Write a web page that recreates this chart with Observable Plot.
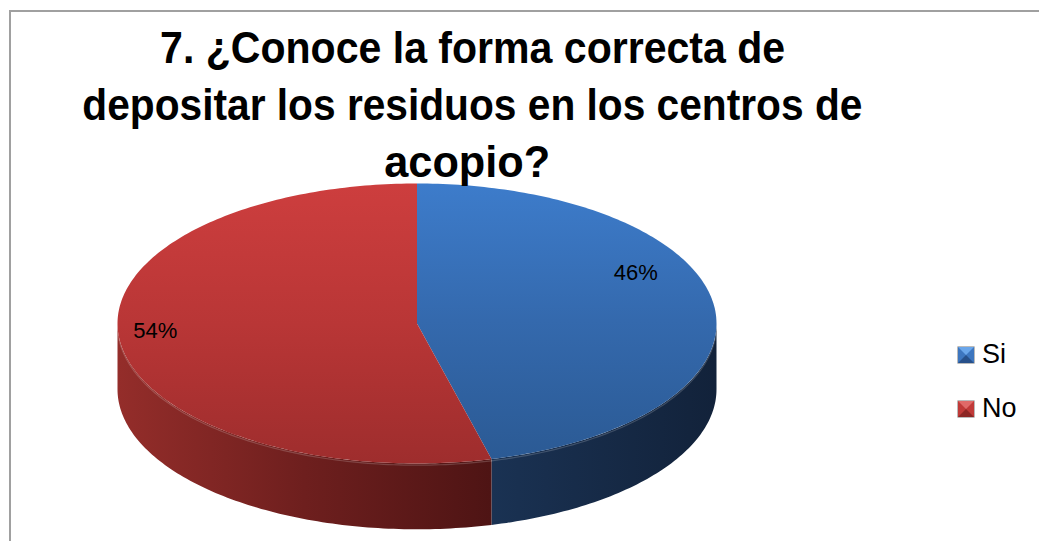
<!DOCTYPE html>
<html><head><meta charset="utf-8">
<script src="https://cdn.jsdelivr.net/npm/d3@7"></script>
<script src="https://cdn.jsdelivr.net/npm/@observablehq/plot@0.6"></script>
<style>
body{margin:0;background:#fff;}
#wrap{position:relative;width:1039px;height:541px;overflow:hidden;background:#fff;font-family:"Liberation Sans",Arial,sans-serif;}
#frame{position:absolute;left:9px;top:10px;right:-10px;bottom:-10px;border-left:2px solid #a0a0a0;border-top:2px solid #a0a0a0;}
#chart{position:absolute;left:0;top:0;}
.tl{position:absolute;white-space:nowrap;font-family:"Liberation Sans Narrow","Liberation Sans",Arial,sans-serif;font-weight:bold;font-size:45px;line-height:45px;color:#000;transform-origin:center center;}
.lg{position:absolute;font-size:27px;line-height:27px;color:#000;}
.sw{position:absolute;width:0;height:0;border-style:solid;border-width:8px 8.5px;box-shadow:0 0 0 0.6px rgba(0,0,0,0.45);}
</style></head><body>
<div id="wrap">
  <div id="frame"></div>
  <div id="chart"></div>
</div>
<script>
const titleLines = ["7. ¿Conoce la forma correcta de", "depositar los residuos en los centros de", "acopio?"];
const categories = ["Si", "No"];
const values = [46, 54];
const percentLabels = ["46%", "54%"];

const topFill = ["url(#blueTop)", "url(#redTop)"];
const wallFill = ["url(#blueWall)", "url(#redWall)"];
const swatchColors = [["#6aa6ea","#3d76bf","#27508a"],["#e06a68","#c03a38","#8c2624"]];

const total = d3.sum(values);
let acc = 0;
const slices = categories.map((c, i) => {
  const a0 = acc / total * 360; acc += values[i];
  const a1 = acc / total * 360;
  return {c, i, a0, a1, mid: (a0 + a1) / 2};
});

const DEPTH = 0.47;
const rad = a => a * Math.PI / 180;
function arc(a0, a1, yOff = 0, xOff = 0) {
  const n = Math.max(2, Math.ceil(Math.abs(a1 - a0)));
  return d3.range(n + 1).map(k => {
    const a = rad(a0 + (a1 - a0) * k / n);
    return {x: Math.sin(a) + xOff, y: Math.cos(a) - yOff};
  });
}

const tops = slices.flatMap(s => [{x: 0, y: 0}, ...arc(s.a0, s.a1)].map(p => ({...p, face: "top" + s.i, fill: topFill[s.i]})));
const walls = slices.flatMap(s => {
  const lo = Math.max(s.a0, 90), hi = Math.min(s.a1, 270);
  if (lo >= hi) return [];
  return [...arc(lo, hi), ...arc(hi, lo, DEPTH)].map(p => ({...p, face: "wall" + s.i, fill: wallFill[s.i]}));
});
const shadow = arc(0, 360, DEPTH + 0.03, 0.008);
const rim = slices.flatMap(s => {
  const lo = Math.max(s.a0, 95), hi = Math.min(s.a1, 265);
  if (lo >= hi) return [];
  return arc(lo, hi, 0.012).map(p => ({...p, face: "rim" + s.i}));
});

const plot = Plot.plot({
  width: 1039, height: 541, margin: 0,
  x: {domain: [-1, 1], range: [117, 716], axis: null},
  y: {domain: [-1, 1], range: [463, 183], axis: null},
  color: {type: "identity"},
  marks: [
    Plot.line(shadow, {x: "x", y: "y", fill: "#7a7a7a", fillOpacity: 0.55, stroke: "none", ariaLabel: "shadow"}),
    Plot.line(walls, {x: "x", y: "y", z: "face", fill: "fill", stroke: "none"}),
    Plot.line(tops, {x: "x", y: "y", z: "face", fill: "fill", stroke: "none"}),
    Plot.line(rim, {x: "x", y: "y", z: "face", stroke: "#ffffff", strokeOpacity: 0.18, strokeWidth: 1.2}),
    Plot.text(slices.filter(s => s.i === 0), {x: s => 0.8 * Math.sin(rad(s.mid)), y: s => 0.8 * Math.cos(rad(s.mid)), text: s => percentLabels[s.i], dx: -19, dy: -37, fontSize: 22, fontFamily: "Liberation Sans", fill: "#000"}),
    Plot.text(slices.filter(s => s.i === 1), {x: s => 0.8 * Math.sin(rad(s.mid)), y: s => 0.8 * Math.cos(rad(s.mid)), text: s => percentLabels[s.i], dx: -24, dy: -7, fontSize: 22, fontFamily: "Liberation Sans", fill: "#000"})
  ]
});

const svg = d3.select(plot);
const defs = svg.insert("defs", ":first-child");
function lin(id, stops, horizontal) {
  const g = defs.append("linearGradient").attr("id", id).attr("x1", 0).attr("y1", 0).attr("x2", horizontal ? 1 : 0).attr("y2", horizontal ? 0 : 1);
  stops.forEach(([o, c]) => g.append("stop").attr("offset", o).attr("stop-color", c));
}
lin("blueTop", [[0, "#3d7ccb"], [0.5, "#3469ad"], [1, "#2b5a94"]]);
lin("redTop", [[0, "#cd3e3e"], [0.5, "#b93636"], [1, "#9e2d2d"]]);
lin("redWall", [[0, "#942d2a"], [0.5, "#6e1f1e"], [1, "#4e1414"]], true);
lin("blueWall", [[0, "#1a3253"], [1, "#12223a"]], true);
const f = defs.append("filter").attr("id", "blur").attr("x", "-10%").attr("y", "-10%").attr("width", "120%").attr("height", "130%");
f.append("feGaussianBlur").attr("stdDeviation", 3);
svg.select('g[aria-label="shadow"]').attr("filter", "url(#blur)");

document.getElementById("chart").appendChild(plot);

const wrap = document.getElementById("wrap");
const titleTargets = [[160, 785], [82, 862], [384, 550]];
const baselines = [63, 120, 177];
titleLines.forEach((t, i) => {
  const d = document.createElement("div");
  d.className = "tl"; d.textContent = t;
  wrap.appendChild(d);
  const w = d.getBoundingClientRect().width;
  const [l, r] = titleTargets[i];
  const tw = r - l;
  d.style.left = ((l + r) / 2 - w / 2) + "px";
  d.style.top = (baselines[i] - 38) + "px";
  d.style.transform = `scaleX(${tw / w})`;
});

const legendY = [355, 409];
categories.forEach((c, i) => {
  const sw = document.createElement("div");
  sw.className = "sw";
  const [lt, md, dk] = swatchColors[i];
  sw.style.borderColor = `${lt} ${md} ${dk} ${md}`;
  sw.style.left = "958px"; sw.style.top = (legendY[i] - 8) + "px";
  wrap.appendChild(sw);
  const t = document.createElement("div");
  t.className = "lg"; t.textContent = c;
  t.style.left = "982px"; t.style.top = (legendY[i] - 14) + "px";
  wrap.appendChild(t);
});
</script>
</body></html>
